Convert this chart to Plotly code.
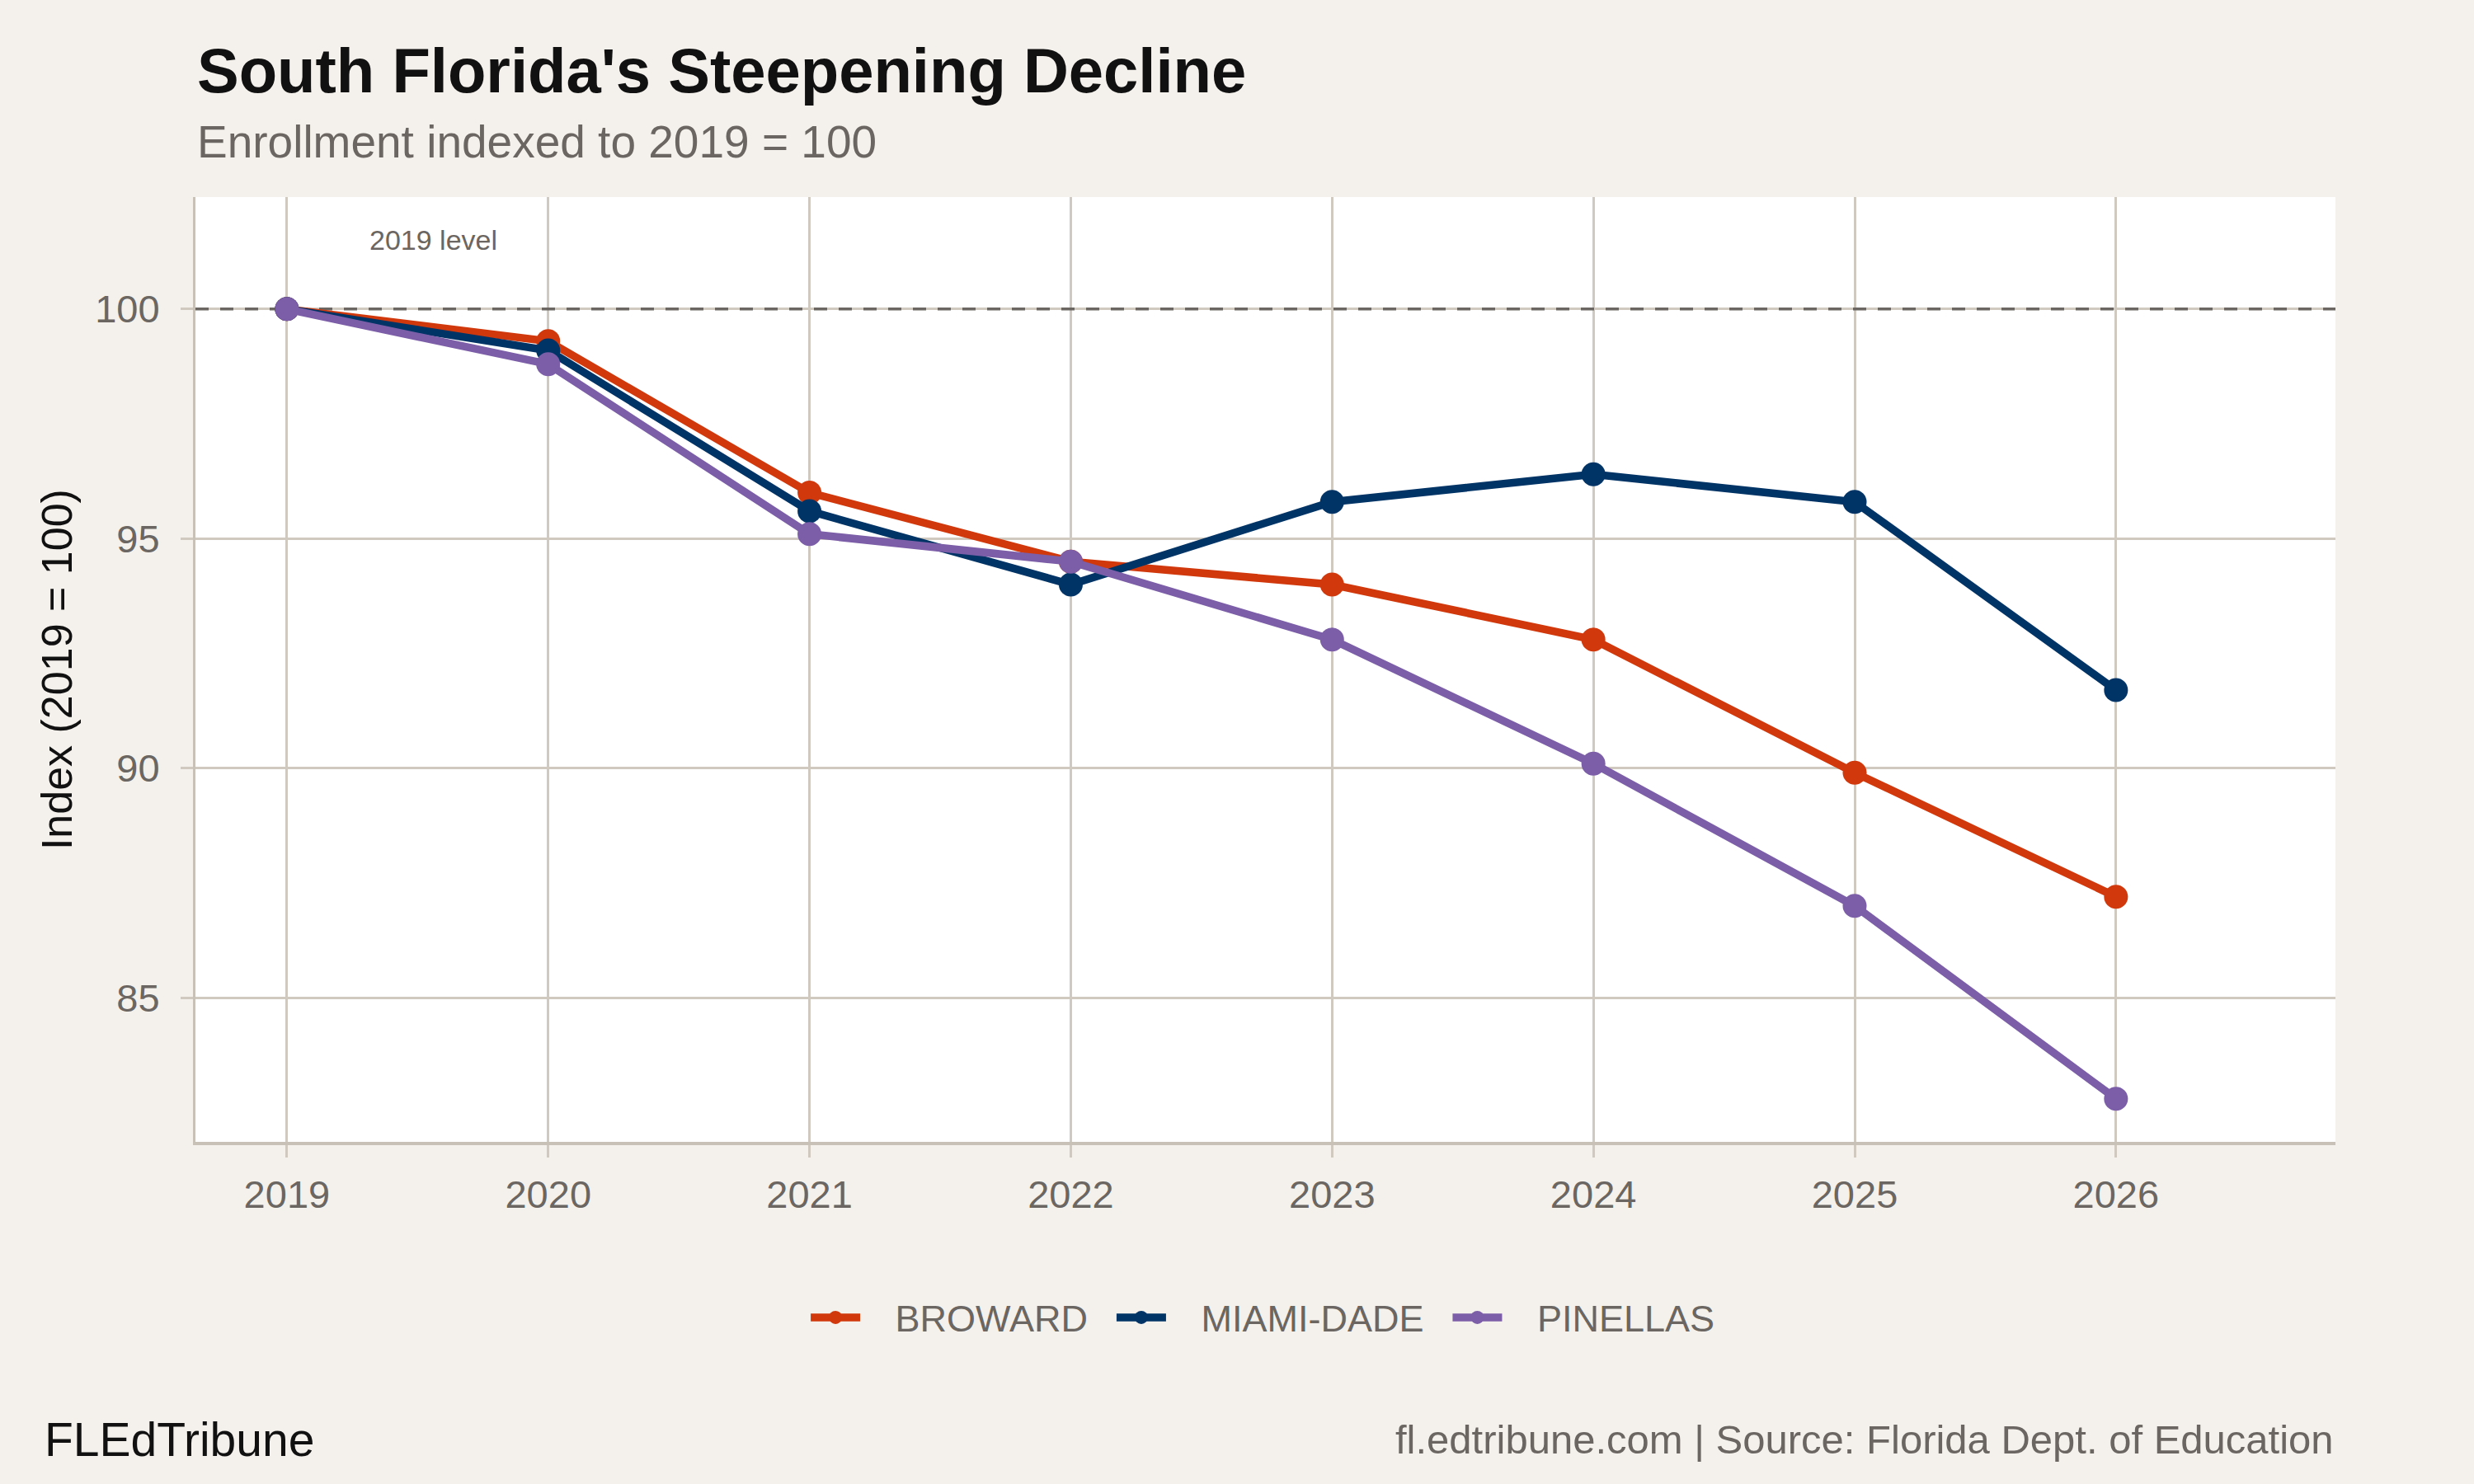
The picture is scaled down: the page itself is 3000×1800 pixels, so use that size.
import plotly.graph_objects as go

years = [2019, 2020, 2021, 2022, 2023, 2024, 2025, 2026]
broward = [100.0, 99.3, 96.0, 94.5, 94.0, 92.8, 89.9, 87.2]
miami_dade = [100.0, 99.1, 95.6, 94.0, 95.8, 96.4, 95.8, 91.7]
pinellas = [100.0, 98.8, 95.1, 94.5, 92.8, 90.1, 87.0, 82.8]

district_names = ["BROWARD", "MIAMI-DADE", "PINELLAS"]
district_colors = ["#D1390D", "#003366", "#7B5EA7"]
y_ticks = [85, 90, 95, 100]
baseline = 100

x_range = [2018.65, 2026.84]
y_range = [81.86, 102.44]

FONT = "Liberation Sans, Arial, Helvetica, sans-serif"
GREY_TEXT = "#6B6661"
GRID = "#CFC9C0"
PAPER = "#F4F1EC"
NBSP = "\u00a0"

fig = go.Figure()

# dashed 2019 reference line, drawn as first trace so it sits above grid, below series
fig.add_trace(
    go.Scatter(
        x=x_range,
        y=[baseline, baseline],
        mode="lines",
        line=dict(color=GREY_TEXT, width=3.5, dash="16px,14px"),
        showlegend=False,
        hoverinfo="skip",
    )
)

for name, values, color in zip(district_names, [broward, miami_dade, pinellas], district_colors):
    fig.add_trace(
        go.Scatter(
            x=years,
            y=values,
            mode="lines+markers",
            # padding so legend entries sit apart like the original
            name=NBSP * 3 + name + NBSP * 2,
            line=dict(color=color, width=9.5),
            marker=dict(color=color, size=29),
        )
    )

fig.add_annotation(
    x=2019.56, y=101.5, xref="x", yref="y",
    text="2019 level", showarrow=False,
    font=dict(family=FONT, size=34, color=GREY_TEXT),
)

# title, subtitle, axis title, footers
fig.add_annotation(
    x=0, y=1.134, xref="paper", yref="paper", xanchor="left", yanchor="middle",
    text="<b>South Florida's Steepening Decline</b>", showarrow=False,
    font=dict(family=FONT, size=76, color="#111111"),
)
fig.add_annotation(
    x=0, y=1.0585, xref="paper", yref="paper", xanchor="left", yanchor="middle",
    text="Enrollment indexed to 2019 = 100", showarrow=False,
    font=dict(family=FONT, size=55, color=GREY_TEXT),
)
fig.add_annotation(
    x=-0.0647, y=0.5, xref="paper", yref="paper", xanchor="center", yanchor="middle",
    text="Index (2019 = 100)", showarrow=False, textangle=-90,
    font=dict(family=FONT, size=52, color="#111111"),
)
fig.add_annotation(
    x=-0.0713, y=-0.315, xref="paper", yref="paper", xanchor="left", yanchor="middle",
    text="FLEdTribune", showarrow=False,
    font=dict(family=FONT, size=57, color="#111111"),
)
fig.add_annotation(
    x=1, y=-0.315, xref="paper", yref="paper", xanchor="right", yanchor="middle",
    text="fl.edtribune.com | Source: Florida Dept. of Education", showarrow=False,
    font=dict(family=FONT, size=49, color=GREY_TEXT),
)

fig.update_layout(
    width=3000,
    height=1800,
    margin=dict(l=237, r=168, t=239, b=415),
    paper_bgcolor=PAPER,
    plot_bgcolor="white",
    font=dict(family=FONT, color=GREY_TEXT),
    showlegend=True,
    legend=dict(
        orientation="h",
        x=0.5035, xanchor="center",
        y=-0.186, yanchor="middle",
        font=dict(family=FONT, size=45, color=GREY_TEXT),
        bgcolor="rgba(0,0,0,0)",
        itemwidth=60,
    ),
)

fig.update_xaxes(
    range=x_range,
    tickvals=years,
    ticktext=[str(y) for y in years],
    showgrid=True, gridcolor=GRID, gridwidth=2.5,
    zeroline=False,
    showline=True, linecolor="#C8C1B8", linewidth=4,
    ticks="outside", ticklen=15, tickwidth=2.5, tickcolor=GRID,
    tickfont=dict(family=FONT, size=47, color=GREY_TEXT),
    ticklabelstandoff=5,
)
fig.update_yaxes(
    range=y_range,
    tickvals=y_ticks,
    showgrid=True, gridcolor=GRID, gridwidth=2.5,
    zeroline=False,
    showline=True, linecolor="#C8C1B8", linewidth=3,
    ticks="outside", ticklen=15, tickwidth=2.5, tickcolor=GRID,
    tickfont=dict(family=FONT, size=47, color=GREY_TEXT),
    ticklabelstandoff=16,
)

fig.write_html(
    "out.html",
    config={"displayModeBar": False},
    post_script="document.body.style.margin='0';",
)
